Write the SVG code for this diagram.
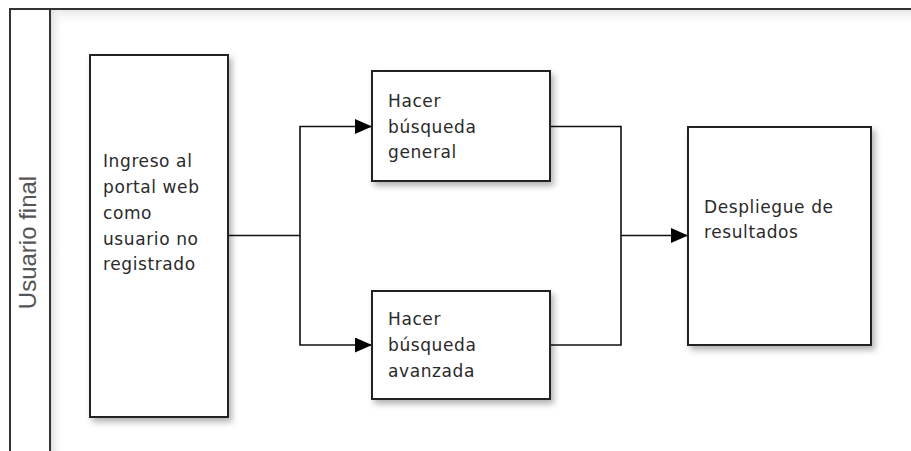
<svg xmlns="http://www.w3.org/2000/svg" width="911" height="451" viewBox="0 0 911 451">
  <defs>
    <style>
      .box { fill: #ffffff; stroke: #222222; stroke-width: 2; filter: url(#shadow); }
      .lbl { font-family: "DejaVu Sans", Verdana, sans-serif; font-size: 17px; letter-spacing: 0.6px; fill: #2a2a2a; }
      .lane { fill: none; stroke: #333333; stroke-width: 2; }
      .conn { fill: none; stroke: #111111; stroke-width: 1.6; }
      .lanetitle { font-family: "Liberation Sans", Arial, sans-serif; font-size: 24px; fill: #555555; }
    </style>
    <filter id="shadow" x="-10%" y="-10%" width="130%" height="130%">
      <feDropShadow dx="3" dy="4" stdDeviation="3" flood-color="#000000" flood-opacity="0.3"/>
    </filter>
    <linearGradient id="topShade" x1="0" y1="0" x2="0" y2="1">
      <stop offset="0" stop-color="#e6e6e6"/>
      <stop offset="1" stop-color="#ffffff" stop-opacity="0"/>
    </linearGradient>
    <linearGradient id="leftShade" x1="0" y1="0" x2="1" y2="0">
      <stop offset="0" stop-color="#e2e2e2"/>
      <stop offset="1" stop-color="#ffffff" stop-opacity="0"/>
    </linearGradient>
    <marker id="arrow" markerWidth="17" markerHeight="15" refX="17" refY="7.5" orient="auto" markerUnits="userSpaceOnUse">
      <path d="M0,0 L17,7.5 L0,15 Z" fill="#000000"/>
    </marker>
  </defs>

  <rect width="911" height="451" fill="#ffffff"/>

  <g id="lane">
    <rect x="51" y="10" width="860" height="16" fill="url(#topShade)"/>
    <rect x="51" y="10" width="14" height="441" fill="url(#leftShade)"/>
    <path class="lane" d="M10,451 L10,9 L911,9"/>
    <path class="lane" d="M50,9 L50,451"/>
    <text class="lanetitle" transform="translate(36,242.5) rotate(-90)" text-anchor="middle">Usuario final</text>
  </g>

  <g id="connectors">
    <path class="conn" d="M228,235.5 L300,235.5 L300,126.5 L372,126.5" marker-end="url(#arrow)"/>
    <path class="conn" d="M300,235.5 L300,345 L372,345" marker-end="url(#arrow)"/>
    <path class="conn" d="M550,126.5 L621,126.5 L621,345 L550,345"/>
    <path class="conn" d="M621,235.5 L688,235.5" marker-end="url(#arrow)"/>
  </g>

  <g id="node-ingreso">
    <rect class="box" x="90" y="55" width="138" height="362"/>
    <text class="lbl" x="103" y="167">Ingreso al</text>
    <text class="lbl" x="103" y="193">portal web</text>
    <text class="lbl" x="103" y="219">como</text>
    <text class="lbl" x="103" y="244.5">usuario no</text>
    <text class="lbl" x="103" y="270">registrado</text>
  </g>

  <g id="node-general">
    <rect class="box" x="372" y="71" width="178" height="110"/>
    <text class="lbl" x="388" y="106.5">Hacer</text>
    <text class="lbl" x="388" y="132.5">búsqueda</text>
    <text class="lbl" x="388" y="158">general</text>
  </g>

  <g id="node-avanzada">
    <rect class="box" x="372" y="291" width="178" height="108"/>
    <text class="lbl" x="388" y="325">Hacer</text>
    <text class="lbl" x="388" y="351">búsqueda</text>
    <text class="lbl" x="388" y="377">avanzada</text>
  </g>

  <g id="node-despliegue">
    <rect class="box" x="688" y="127" width="183" height="218"/>
    <text class="lbl" x="704" y="212.5">Despliegue de</text>
    <text class="lbl" x="704" y="238">resultados</text>
  </g>
</svg>
